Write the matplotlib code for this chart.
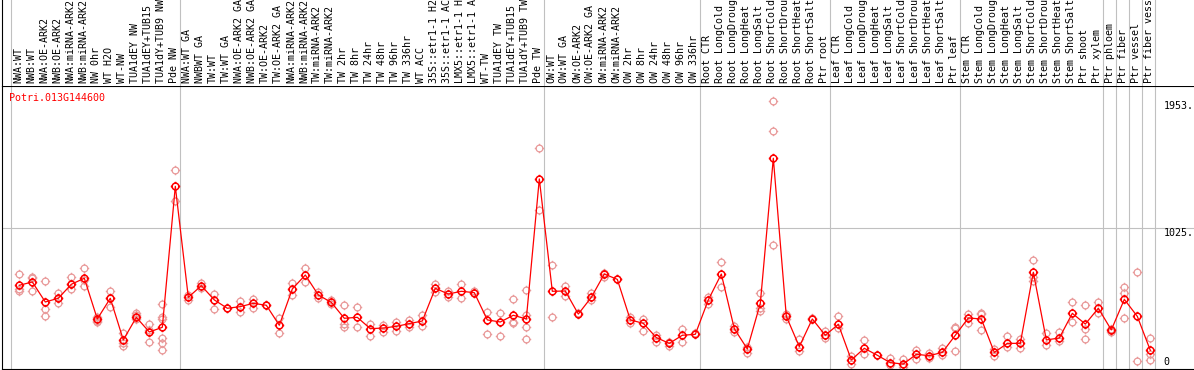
import matplotlib
matplotlib.use('Agg')
import matplotlib.pyplot as plt
from matplotlib.path import Path

# sample names (one per column)
labels = ['NWA:WT', 'NWB:WT', 'NWA:OE-ARK2', 'NWB:OE-ARK2', 'NWA:miRNA-ARK2', 'NWB:miRNA-ARK2',
          'NW 0hr', 'WT H2O', 'WT-NW', 'TUA1dEY NW', 'TUA1dEY+TUB15 NW', 'TUA1dY+TUB9 NW', 'Pde NW',
          'NWA:WT GA', 'NWBWT GA', 'TW:WT', 'TW:WT GA', 'NWA:OE-ARK2 GA', 'NWB:OE-ARK2 GA',
          'TW:OE-ARK2', 'TW:OE-ARK2 GA', 'NWA:miRNA-ARK2', 'NWB:miRNA-ARK2', 'TW:miRNA-ARK2',
          'TW:miRNA-ARK2', 'TW 2hr', 'TW 8hr', 'TW 24hr', 'TW 48hr', 'TW 96hr', 'TW 336hr', 'WT ACC',
          '35S::etr1-1 H2O', '35S::etr1-1 ACC', 'LMX5::etr1-1 H2O', 'LMX5::etr1-1 ACC', 'WT-TW',
          'TUA1dEY TW', 'TUA1dEY+TUB15 TW', 'TUA1dY+TUB9 TW', 'Pde TW',
          'OW:WT', 'OW:WT GA', 'OW:OE-ARK2', 'OW:OE-ARK2 GA', 'OW:miRNA-ARK2', 'OW:miRNA-ARK2',
          'OW 2hr', 'OW 8hr', 'OW 24hr', 'OW 48hr', 'OW 96hr', 'OW 336hr',
          'Root CTR', 'Root LongCold', 'Root LongDrought', 'Root LongHeat', 'Root LongSalt',
          'Root ShortCold', 'Root ShortDrought', 'Root ShortHeat', 'Root ShortSalt', 'Ptr root',
          'Leaf CTR', 'Leaf LongCold', 'Leaf LongDrought', 'Leaf LongHeat', 'Leaf LongSalt',
          'Leaf ShortCold', 'Leaf ShortDrought', 'Leaf ShortHeat', 'Leaf ShortSalt', 'Ptr leaf',
          'Stem CTR', 'Stem LongCold', 'Stem LongDrought', 'Stem LongHeat', 'Stem LongSalt',
          'Stem ShortCold', 'Stem ShortDrought', 'Stem ShortHeat', 'Stem ShortSalt', 'Ptr shoot',
          'Ptr xylem', 'Ptr phloem', 'Ptr fiber', 'Ptr vessel', 'Ptr fiber vessel']

# mean expression per sample
means = [609, 633, 487, 514, 616, 660, 363, 514, 210, 375, 268, 302, 1331,
         521, 606, 502, 441, 453, 477, 463, 317, 582, 684, 538, 484, 368, 375, 292, 297,
         309, 329, 348, 587, 545, 565, 555, 356, 341, 390, 363, 1385,
         565, 567, 399, 521, 691, 652, 356, 331, 227, 185, 244, 251,
         502, 691, 292, 144, 477, 1536, 382, 161, 363, 244,
         324, 64, 149, 98, 44, 34, 105, 95, 119, 244,
         370, 363, 119, 185, 185, 704, 210, 224, 404, 326,
         441, 283, 506, 382, 134]

# replicate values per sample
reps = [[689, 579, 570], [672, 660, 565], [638, 438, 382], [555, 514, 477], [669, 579, 616],
        [733, 601, 648], [351, 343, 375], [567, 453, 514], [258, 185, 168], [404, 392, 360],
        [324, 192, 283], [472, 380, 363, 227, 185, 137], [1451, 1224],
        [538, 502], [628, 587], [545, 438], [441], [497, 416], [506, 441], [463], [373, 258],
        [626, 538], [733, 630], [562, 514], [502, 472], [463, 324, 304], [448, 307], [324, 239],
        [319, 270], [338, 278], [356, 307], [392, 312], [618, 562], [567, 521], [616, 514],
        [570, 550], [412, 251], [404, 239], [509, 343, 331], [575, 392, 302, 217], [1609, 1159],
        [757, 375], [606, 533], [404], [550, 502], [701, 667], [652], [375, 336], [365, 278],
        [248, 197], [197, 168], [292, 195], [258],
        [526, 472], [776, 594], [312, 265], [161, 117], [550, 441, 424], [1953, 1735, 903],
        [397, 360], [214, 132], [373], [278, 222],
        [385, 295], [93, 34], [207, 107], [98], [76, 27], [68, 10], [137, 73], [112, 76],
        [149, 100], [307, 295, 129],
        [402, 336], [409, 399, 283], [144, 93], [239, 161], [219, 154], [791, 672, 643],
        [258, 173], [268, 202], [484, 338], [463, 287, 214],
        [487, 409], [292, 265], [594, 550, 370], [704, 54], [224, 107, 64]]

# first column of each group
group_starts = [0, 13, 41, 53, 63, 73, 84, 85, 86, 87, 88]
gene = 'Potri.013G144600'
ytick_vals = [1953, 1025, 0]

W, H = 1194, 370
mono = 'DejaVu Sans Mono'
fs = 7.2


def px_rect(left, top, right, bottom):
    return [left / W, 1 - bottom / H, (right - left) / W, (bottom - top) / H]


fig = plt.figure(figsize=(W / 100, H / 100), dpi=100)
ax = fig.add_axes(px_rect(1.5, 85.5, W, 368.7))
ax_lab = fig.add_axes(px_rect(1.5, 0, W, 85.5))

xlim = (-1.37, 90.36)
for a in (ax, ax_lab):
    a.set_xlim(xlim)
    a.set_xticks([])
    a.set_yticks([])
    for s in a.spines.values():
        s.set_visible(False)
    a.spines['left'].set_visible(True)
    a.spines['left'].set_linewidth(0.8)
ax.set_ylim(0, 2067)
ax.set_ylim(0, 2067)
for s in ('top', 'bottom'):
    ax.spines[s].set_visible(True)
    ax.spines[s].set_linewidth(0.8)

# group separators and 1025 grid line
for g in group_starts:
    for a in (ax, ax_lab):
        a.axvline(g - 0.63, color='#c0c0c0', lw=0.8, zorder=0)
ax.axhline(1025, color='#c0c0c0', lw=0.8, zorder=0)

# circle with small ticks, like the original marker
circ = Path.unit_circle()
tv = [(0, 1), (0, 1.4), (0, -1), (0, -1.4), (1, 0), (1.4, 0), (-1, 0), (-1.4, 0)]
tc = [Path.MOVETO, Path.LINETO] * 4
mk = Path.make_compound_path(circ, Path(tv, tc))

x = list(range(len(means)))
rx = [i for i, r in enumerate(reps) for v in r]
ry = [v for r in reps for v in r]
ax.plot(rx, ry, linestyle='none', marker=mk, markersize=6.8, markerfacecolor='none',
        markeredgecolor='#e99a9a', markeredgewidth=0.9, zorder=2)
ax.plot(x, means, color='red', lw=0.9, zorder=3)
ax.plot(x, means, linestyle='none', marker=mk, markersize=6.8, markerfacecolor='none',
        markeredgecolor='red', markeredgewidth=1.1, zorder=4)

# sample labels
for i, lab in enumerate(labels):
    ax_lab.text(i - 0.1, 0.03, lab, rotation=90, ha='center', va='bottom',
                family=mono, fontsize=fs, transform=ax_lab.get_xaxis_transform())

# gene name
fig.text(9.3 / W, 1 - 100.7 / H, gene, color='red', family=mono, fontsize=fs,
         ha='left', va='baseline')

# value labels on the right
for v in ytick_vals:
    dy = 3.4 if v == 0 else -7.6
    txt = str(v) if v == 0 else str(v) + '.'
    ax.annotate(txt, xy=(1, v), xycoords=('axes fraction', 'data'),
                xytext=(-30.7, dy), textcoords='offset pixels',
                family=mono, fontsize=fs, ha='left', va='baseline')

fig.savefig('out.png', dpi=100)
